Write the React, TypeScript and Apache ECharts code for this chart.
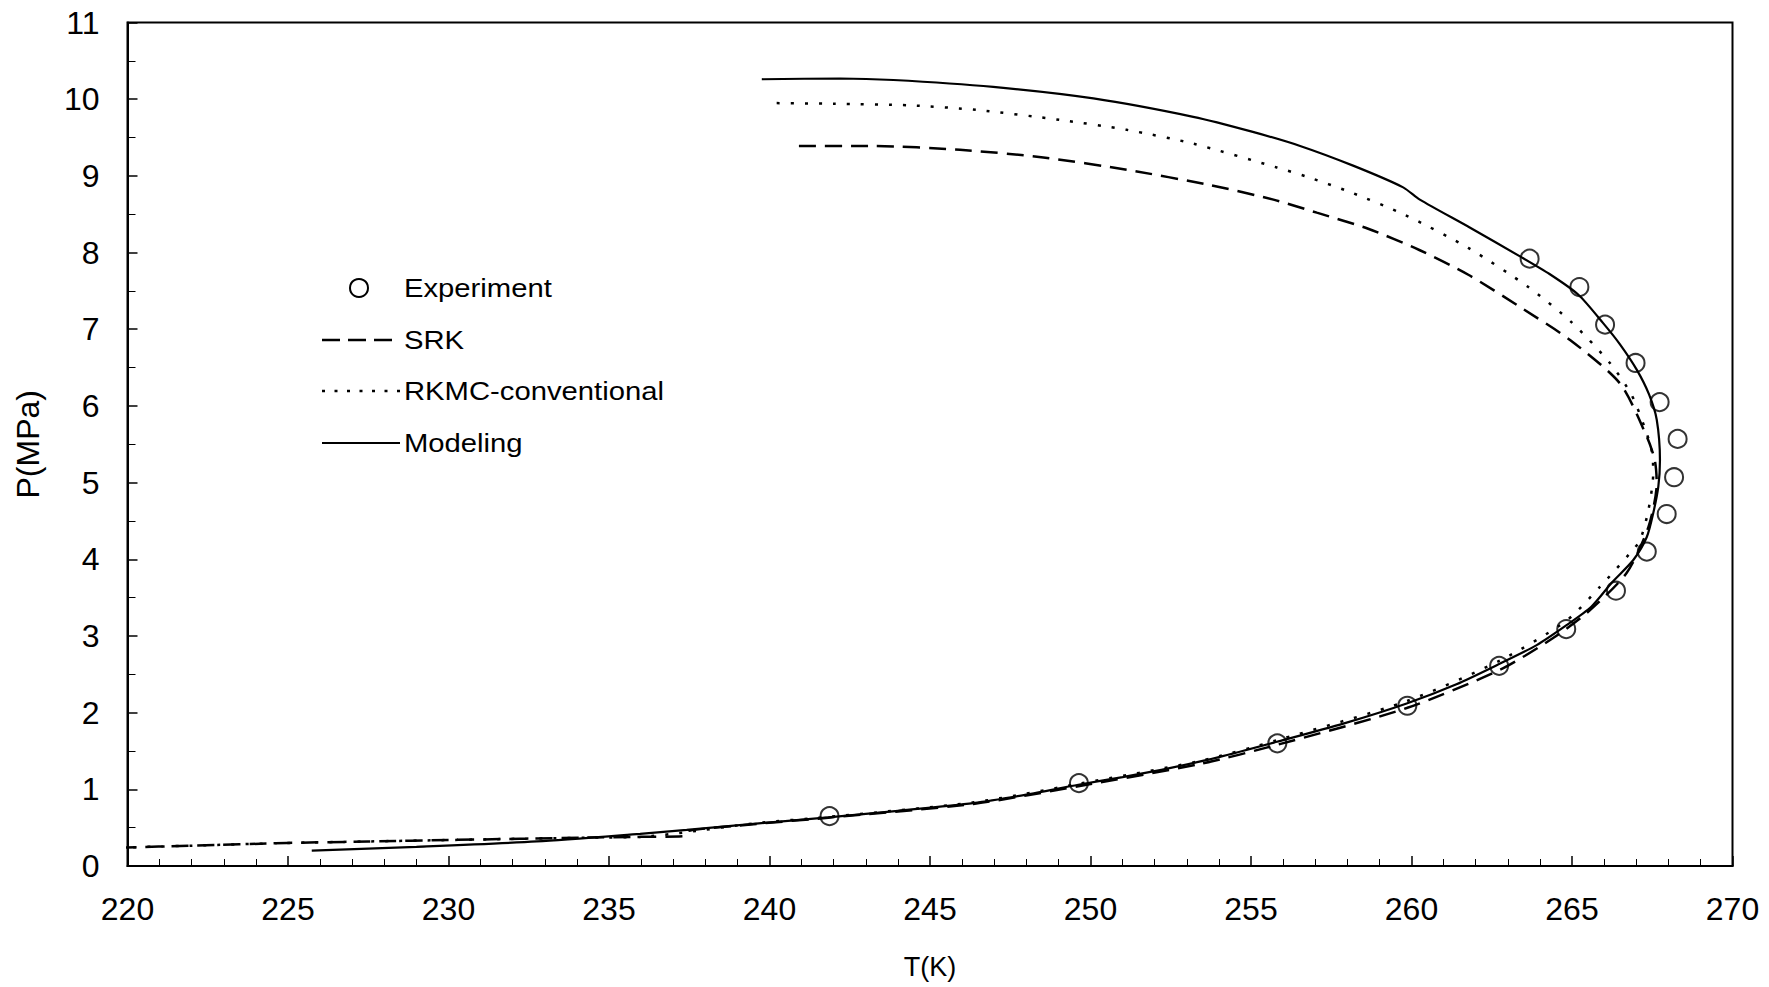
import React, { useEffect, useRef } from "react";
import * as echarts from "echarts";

// Experimental points
const expT = [241.87, 249.64, 255.82, 259.87, 262.73, 264.82, 266.37, 267.33, 267.95, 268.18, 268.29, 267.73, 266.98, 266.03, 265.23, 263.68];
const expP = [0.65, 1.08, 1.6, 2.09, 2.61, 3.09, 3.59, 4.1, 4.59, 5.07, 5.57, 6.05, 6.56, 7.06, 7.55, 7.92];

// SRK (dashed)
const srkT = [219.75, 222.0, 224.96, 227.5, 230.15, 234.3, 236.0, 237.4, 237.5, 239.5, 241.83, 246.35, 249.62, 253.41, 255.81, 259.85, 262.76, 264.4, 265.46, 266.7, 267.38, 267.64, 267.58, 267.33, 266.5, 264.94, 263.38, 261.77, 260.26, 258.65, 257.05, 255.7, 253.72, 251.13, 248.53, 245.93, 243.23, 240.83];
const srkP = [0.24, 0.265, 0.3, 0.32, 0.34, 0.37, 0.38, 0.39, 0.46, 0.545, 0.63, 0.81, 1.04, 1.33, 1.58, 2.06, 2.56, 2.97, 3.3, 3.82, 4.42, 4.99, 5.29, 5.6, 6.29, 6.86, 7.29, 7.71, 8.03, 8.31, 8.52, 8.69, 8.88, 9.08, 9.24, 9.34, 9.39, 9.39];

// RKMC-conventional (dotted)
const rkT = [219.75, 222.0, 224.96, 227.5, 230.15, 234.3, 236.0, 237.4, 239.5, 241.83, 246.35, 249.62, 253.41, 255.81, 259.85, 262.76, 264.83, 265.87, 266.81, 267.12, 267.38, 267.53, 267.5, 267.33, 266.86, 266.18, 264.99, 263.64, 261.77, 259.8, 258.08, 256.73, 255.8, 253.2, 251.13, 249.05, 246.45, 244.38, 242.0, 239.91];
const rkP = [0.24, 0.265, 0.3, 0.32, 0.34, 0.37, 0.38, 0.44, 0.555, 0.64, 0.83, 1.07, 1.37, 1.64, 2.15, 2.68, 3.2, 3.64, 4.08, 4.25, 4.64, 5.12, 5.38, 5.64, 6.14, 6.56, 7.09, 7.55, 8.06, 8.49, 8.79, 8.99, 9.11, 9.42, 9.6, 9.73, 9.86, 9.92, 9.94, 9.95];

// Modeling (solid)
const modT = [225.74, 229.0, 232.75, 235.97, 237.42, 239.5, 241.83, 244.0, 246.35, 248.0, 249.62, 251.0, 252.5, 254.0, 255.81, 257.9, 259.85, 261.4, 262.76, 263.9, 264.83, 265.6, 266.25, 266.91, 267.33, 267.53, 267.69, 267.74, 267.64, 267.4, 267.02, 266.5, 265.97, 265.2, 264.3, 263.38, 261.8, 260.26, 259.74, 258.2, 256.53, 255.0, 253.2, 250.09, 246.97, 243.86, 242.2, 239.76];
const modP = [0.2, 0.25, 0.32, 0.42, 0.47, 0.55, 0.635, 0.72, 0.82, 0.93, 1.06, 1.16, 1.28, 1.42, 1.62, 1.86, 2.12, 2.37, 2.64, 2.88, 3.14, 3.38, 3.7, 3.99, 4.29, 4.6, 4.95, 5.29, 5.82, 6.15, 6.47, 6.8, 7.08, 7.45, 7.72, 7.95, 8.33, 8.69, 8.85, 9.13, 9.39, 9.58, 9.77, 10.01, 10.16, 10.25, 10.27, 10.26];

const legendNames = ["Experiment", "SRK", "RKMC-conventional", "Modeling"];

const zip = (a: number[], b: number[]) => a.map((v, i) => [v, b[i]]);

const FONT = "'Liberation Sans', Arial, sans-serif";

export default function App() {
  const ref = useRef<HTMLDivElement>(null);
  useEffect(() => {
    if (!ref.current) return;
    const chart = echarts.init(ref.current, undefined, { renderer: "svg" });
    const legX = 322;
    const legLineEnd = 400;
    const textX = 404;
    const rows = [288, 340, 391, 443];
    const legendText = (i: number) => ({
      type: "text",
      x: textX,
      y: rows[i],
      scaleX: 1.17,
      style: {
        text: legendNames[i],
        fontSize: 25,
        fontFamily: FONT,
        fill: "#000",
        verticalAlign: "middle",
        align: "left",
      },
    });
    chart.setOption({
      animation: false,
      backgroundColor: "#fff",
      grid: {
        left: 127.5,
        right: 36.5,
        top: 22.5,
        bottom: 121,
        show: true,
        borderColor: "#000",
        borderWidth: 2,
        backgroundColor: "transparent",
      },
      xAxis: {
        type: "value",
        min: 220,
        max: 270,
        interval: 5,
        name: "T(K)",
        nameLocation: "middle",
        nameGap: 87,
        nameTextStyle: { fontSize: 27, fontFamily: FONT, color: "#000" },
        axisLine: { show: true, onZero: false, lineStyle: { color: "#000", width: 2 } },
        axisTick: { show: true, inside: true, length: 10, lineStyle: { color: "#000", width: 1.5 } },
        minorTick: { show: true, splitNumber: 5, length: 7, lineStyle: { color: "#000", width: 1 } },
        axisLabel: { fontSize: 32, fontFamily: FONT, color: "#000", margin: 27 },
        splitLine: { show: false },
      },
      yAxis: {
        type: "value",
        min: 0,
        max: 11,
        interval: 1,
        name: "P(MPa)",
        nameLocation: "middle",
        nameGap: 84,
        nameTextStyle: { fontSize: 32, fontFamily: FONT, color: "#000" },
        axisLine: { show: true, onZero: false, lineStyle: { color: "#000", width: 2 } },
        axisTick: { show: true, inside: true, length: 10, lineStyle: { color: "#000", width: 1.5 } },
        minorTick: { show: true, splitNumber: 2, length: 8, lineStyle: { color: "#000", width: 1 } },
        axisLabel: { fontSize: 32, fontFamily: FONT, color: "#000", margin: 28 },
        splitLine: { show: false },
      },
      graphic: [
        {
          type: "circle",
          shape: { cx: 359, cy: rows[0], r: 9 },
          style: { fill: "none", stroke: "#000", lineWidth: 2 },
        },
        legendText(0),
        {
          type: "line",
          shape: { x1: legX, y1: rows[1], x2: 394, y2: rows[1] },
          style: { stroke: "#000", lineWidth: 2.5, lineDash: [18, 8] },
        },
        legendText(1),
        {
          type: "line",
          shape: { x1: legX, y1: rows[2], x2: legLineEnd, y2: rows[2] },
          style: { stroke: "#000", lineWidth: 2.5, lineDash: [3, 9.5] },
        },
        legendText(2),
        {
          type: "line",
          shape: { x1: legX, y1: rows[3], x2: legLineEnd, y2: rows[3] },
          style: { stroke: "#000", lineWidth: 2 },
        },
        legendText(3),
      ],
      series: [
        {
          name: "SRK",
          type: "line",
          data: zip(srkT, srkP),
          showSymbol: false,
          symbol: "none",
          smooth: 0.25,
          clip: false,
          lineStyle: { color: "#000", width: 2.5, type: [17, 9] },
          z: 2,
        },
        {
          name: "RKMC-conventional",
          type: "line",
          data: zip(rkT, rkP),
          showSymbol: false,
          symbol: "none",
          smooth: 0.25,
          clip: false,
          lineStyle: { color: "#000", width: 2.5, type: [3, 11] },
          z: 3,
        },
        {
          name: "Modeling",
          type: "line",
          data: zip(modT, modP),
          showSymbol: false,
          symbol: "none",
          smooth: 0.25,
          lineStyle: { color: "#000", width: 2.2 },
          z: 4,
        },
        {
          name: "Experiment",
          type: "scatter",
          data: zip(expT, expP),
          symbol: "circle",
          symbolSize: 18,
          itemStyle: { color: "transparent", borderColor: "#000", borderWidth: 2 },
          z: 5,
        },
      ],
    });
    return () => chart.dispose();
  }, []);
  return (
    <div
      ref={ref}
      style={{ position: "absolute", left: 0, top: 0, width: 1769, height: 987, background: "#fff" }}
    />
  );
}
